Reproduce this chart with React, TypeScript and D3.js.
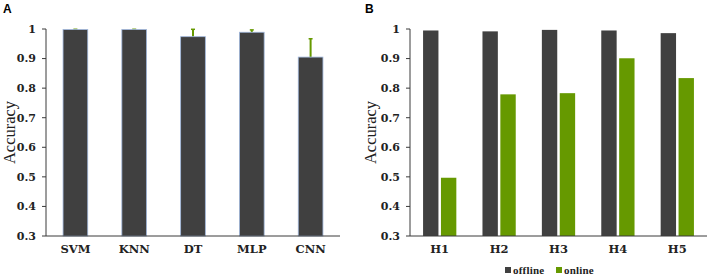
import React from "react";
import * as d3 from "d3";

const modelsA = ["SVM", "KNN", "DT", "MLP", "CNN"];
const accuracyA = [0.998, 0.998, 0.974, 0.989, 0.905];
const errorA = [0.001, 0.001, 0.025, 0.008, 0.062];

const subjectsB = ["H1", "H2", "H3", "H4", "H5"];
const offlineB = [0.995, 0.992, 0.997, 0.995, 0.986];
const onlineB = [0.497, 0.779, 0.783, 0.901, 0.834];
const seriesNames = ["offline", "online"];

const yTicks = [0.3, 0.4, 0.5, 0.6, 0.7, 0.8, 0.9, 1];

const DARK = "#404040";
const GREEN = "#669900";
const AXIS = "#3a3a3a";
const SERIF = "'DejaVu Serif', serif";
const TIMES = "'Liberation Serif', 'Times New Roman', serif";

const top = 29;
const bottom = 236;

function YAxis({ x, y }: { x: number; y: d3.ScaleLinear<number, number> }) {
  return (
    <g>
      <line x1={x} x2={x} y1={y(1)} y2={y(0.3)} stroke={AXIS} strokeWidth={1} />
      {yTicks.map((t) => (
        <g key={t}>
          <line x1={x - 4} x2={x} y1={y(t)} y2={y(t)} stroke={AXIS} strokeWidth={1} />
          <text
            x={x - 10}
            y={y(t)}
            dy="0.35em"
            textAnchor="end"
            fontFamily={SERIF}
            fontWeight="bold"
            fontSize={11}
            fill="#222"
          >
            {d3.format("")(t)}
          </text>
        </g>
      ))}
    </g>
  );
}

export default function App() {
  const y = d3.scaleLinear().domain([0.3, 1]).range([bottom, top]);

  const xA = d3.scaleBand().domain(modelsA).range([46, 340]).paddingInner(0.58).paddingOuter(0.29);
  const xB = d3.scaleBand().domain(subjectsB).range([410, 707]).paddingInner(0.44).paddingOuter(0.22);
  const xSub = d3.scaleBand().domain(seriesNames).range([0, xB.bandwidth()]).paddingInner(0.14);

  return (
    <svg width={708} height={277} style={{ position: "absolute", left: 0, top: 0 }}>
      <rect width={708} height={277} fill="#fff" />
      <text x={3} y={13} fontFamily="'Liberation Sans', Arial, sans-serif" fontWeight="bold" fontSize={12}>
        A
      </text>
      <text x={365} y={13} fontFamily="'Liberation Sans', Arial, sans-serif" fontWeight="bold" fontSize={12}>
        B
      </text>

      {/* Panel A */}
      <text
        transform={`translate(15,${(top + bottom) / 2}) rotate(-90)`}
        textAnchor="middle"
        fontFamily={TIMES}
        fontSize={16.5}
        fill="#222"
      >
        Accuracy
      </text>
      {modelsA.map((m, i) => {
        const cx = (xA(m) as number) + xA.bandwidth() / 2;
        return (
          <line
            key={m + "e"}
            x1={cx}
            x2={cx}
            y1={y(accuracyA[i])}
            y2={y(accuracyA[i] + errorA[i])}
            stroke={GREEN}
            strokeWidth={2}
          />
        );
      })}
      {modelsA.map((m, i) => {
        const cx = (xA(m) as number) + xA.bandwidth() / 2;
        return (
          <line
            key={m + "c"}
            x1={cx - 2}
            x2={cx + 2}
            y1={y(accuracyA[i] + errorA[i])}
            y2={y(accuracyA[i] + errorA[i])}
            stroke={GREEN}
            strokeWidth={1.5}
          />
        );
      })}
      {modelsA.map((m, i) => (
        <rect
          key={m}
          x={xA(m)}
          y={y(accuracyA[i])}
          width={xA.bandwidth()}
          height={y(0.3) - y(accuracyA[i])}
          fill={DARK}
          stroke="#9fb6db"
          strokeWidth={0.8}
        />
      ))}
      <line x1={46} x2={340} y1={y(0.3)} y2={y(0.3)} stroke={AXIS} strokeWidth={1} />
      <YAxis x={46} y={y} />
      {modelsA.map((m) => (
        <text
          key={m + "l"}
          x={(xA(m) as number) + xA.bandwidth() / 2}
          y={253}
          textAnchor="middle"
          fontFamily={SERIF}
          fontWeight="bold"
          fontSize={11.5}
          fill="#222"
        >
          {m}
        </text>
      ))}

      {/* Panel B */}
      <text
        transform={`translate(376,${(top + bottom) / 2}) rotate(-90)`}
        textAnchor="middle"
        fontFamily={TIMES}
        fontSize={16.5}
        fill="#222"
      >
        Accuracy
      </text>
      {subjectsB.map((s, i) => {
        const x0 = xB(s) as number;
        return (
          <g key={s}>
            <rect
              x={x0 + (xSub("offline") as number)}
              y={y(offlineB[i])}
              width={xSub.bandwidth()}
              height={y(0.3) - y(offlineB[i])}
              fill={DARK}
            />
            <rect
              x={x0 + (xSub("online") as number)}
              y={y(onlineB[i])}
              width={xSub.bandwidth()}
              height={y(0.3) - y(onlineB[i])}
              fill={GREEN}
            />
          </g>
        );
      })}
      <line x1={410} x2={707} y1={y(0.3)} y2={y(0.3)} stroke={AXIS} strokeWidth={1} />
      <YAxis x={410} y={y} />
      {subjectsB.map((s) => (
        <text
          key={s + "l"}
          x={(xB(s) as number) + xB.bandwidth() / 2}
          y={253}
          textAnchor="middle"
          fontFamily={SERIF}
          fontWeight="bold"
          fontSize={11.5}
          fill="#222"
        >
          {s}
        </text>
      ))}

      {/* Legend */}
      {seriesNames.map((n, i) => {
        const lx = i === 0 ? 505 : 556;
        return (
          <g key={n}>
            <rect x={lx} y={267} width={6} height={6} fill={i === 0 ? DARK : GREEN} />
            <text
              x={lx + 8}
              y={274}
              fontFamily={TIMES}
              fontWeight="bold"
              fontSize={11}
              letterSpacing={0.2}
              fill="#222"
            >
              {n}
            </text>
          </g>
        );
      })}
    </svg>
  );
}
